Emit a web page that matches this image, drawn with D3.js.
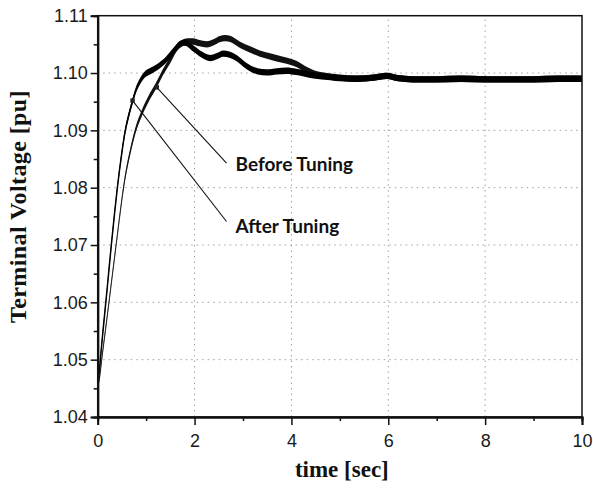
<!DOCTYPE html>
<html>
<head>
<meta charset="utf-8">
<script src="https://cdn.jsdelivr.net/npm/d3@7"></script>
<style>
  html, body { margin: 0; padding: 0; background: #fff; }
  svg { display: block; }
</style>
</head>
<body>
<svg id="chart" width="593" height="494"></svg>
<script>
// ---------- data ----------
const xTicks = [0, 2, 4, 6, 8, 10];
const xMinorTicks = [1, 3, 5, 7, 9];
const yTicks = [1.04, 1.05, 1.06, 1.07, 1.08, 1.09, 1.10, 1.11];
const yMinorTicks = [1.045, 1.055, 1.065, 1.075, 1.085, 1.095, 1.105];

const afterTime  = [0, 0.02, 0.1, 0.2, 0.28, 0.35, 0.41, 0.49, 0.557, 0.64, 0.72, 0.78, 0.87, 0.98, 1.1, 1.22, 1.4, 1.56, 1.7, 1.8, 1.97, 2.15, 2.32, 2.45, 2.59, 2.72, 2.87, 3.0, 3.15, 3.3, 3.49, 3.7, 3.9, 4.1, 4.45, 4.8, 5.0, 5.35, 5.7, 5.97, 6.2, 6.5, 7, 7.5, 8, 8.5, 9, 9.5, 10];
const afterVolt  = [1.0456, 1.0470, 1.0542, 1.0628, 1.0699, 1.0757, 1.0803, 1.0856, 1.0894, 1.0926, 1.0951, 1.0968, 1.0985, 1.0998, 1.1004, 1.1010, 1.1022, 1.1038, 1.1051, 1.1053, 1.1043, 1.1032, 1.1026, 1.1029, 1.1034, 1.1032, 1.1026, 1.1017, 1.1008, 1.1003, 1.1001, 1.1003, 1.1004, 1.1002, 1.0996, 1.0993, 1.0991, 1.0990, 1.0992, 1.0995, 1.0991, 1.0989, 1.0989, 1.0990, 1.0989, 1.0989, 1.0989, 1.0990, 1.0990];

const beforeTime = [0, 0.03, 0.1, 0.2, 0.38, 0.57, 0.68, 0.78, 0.915, 1.05, 1.2, 1.35, 1.5, 1.63, 1.75, 1.85, 1.97, 2.1, 2.25, 2.4, 2.52, 2.63, 2.75, 2.94, 3.15, 3.35, 3.6, 3.83, 4.1, 4.3, 4.45, 4.7, 5.0, 5.35, 5.7, 5.97, 6.2, 6.5, 7, 7.5, 8, 8.5, 9, 9.5, 10];
const beforeVolt = [1.0456, 1.0465, 1.0512, 1.0578, 1.0700, 1.0820, 1.0866, 1.0900, 1.0931, 1.0955, 1.0977, 1.1002, 1.1023, 1.1043, 1.1052, 1.1055, 1.1055, 1.1052, 1.1050, 1.1054, 1.1059, 1.1061, 1.1059, 1.1049, 1.1041, 1.1034, 1.1028, 1.1023, 1.1016, 1.1006, 1.1000, 1.0995, 1.0992, 1.0990, 1.0992, 1.0995, 1.0991, 1.0989, 1.0989, 1.0990, 1.0989, 1.0989, 1.0989, 1.0990, 1.0990];

// annotations
const annLabels = ["Before Tuning", "After Tuning"];
const annMarkT  = [1.22, 0.72];
const annMarkV  = [1.0975, 1.0952];
const annEndT   = [2.66, 2.66];
const annEndV   = [1.0843, 1.0741];
const annTextV  = [1.0829, 1.0721];

const noiseHalf = 0.00055; // half-width of the measurement noise band (pu)

// ---------- layout ----------
const W = 593, H = 494;
const m = { left: 97.7, right: 11, top: 15.7, bottom: 77 };
const svg = d3.select("#chart");
const x = d3.scaleLinear().domain([0, 10]).range([m.left, W - m.right]);
const y = d3.scaleLinear().domain([1.04, 1.11]).range([H - m.bottom, m.top]);

// gridlines
const grid = svg.append("g").attr("stroke", "#a0a0a0").attr("stroke-width", 1).attr("stroke-dasharray", "1.5,4");
grid.selectAll("line.gx").data(xTicks.slice(1, -1)).join("line")
  .attr("x1", d => x(d)).attr("x2", d => x(d)).attr("y1", y(1.04)).attr("y2", y(1.11));
grid.selectAll("line.gy").data(yTicks.slice(1, -1)).join("line")
  .attr("x1", x(0)).attr("x2", x(10)).attr("y1", d => y(d)).attr("y2", d => y(d));

// series
function seriesData(t, v) { return t.map((d, i) => ({ t: d, v: v[i] })); }
const dAfter = seriesData(afterTime, afterVolt);
const dBefore = seriesData(beforeTime, beforeVolt);

const band = d3.area().curve(d3.curveMonotoneX)
  .x(d => x(d.t)).y0(d => y(d.v - noiseHalf)).y1(d => y(d.v + noiseHalf));
const line = d3.line().curve(d3.curveMonotoneX).x(d => x(d.t)).y(d => y(d.v));

svg.append("path").datum(dBefore).attr("d", line).attr("fill", "none")
  .attr("stroke", "#8a8a8a").attr("stroke-width", 1.2);
svg.append("path").datum(dBefore).attr("d", band).attr("fill", "#111");
svg.append("path").datum(dAfter).attr("d", band).attr("fill", "#000");
svg.append("path").datum(dAfter).attr("d", line).attr("fill", "none")
  .attr("stroke", "#000").attr("stroke-width", 1.5);

// annotations
const ann = svg.append("g");
annLabels.forEach((lab, i) => {
  ann.append("line")
    .attr("x1", x(annMarkT[i])).attr("y1", y(annMarkV[i]))
    .attr("x2", x(annEndT[i])).attr("y2", y(annEndV[i]))
    .attr("stroke", "#111").attr("stroke-width", 1.1);
  ann.append("rect")
    .attr("x", x(annMarkT[i]) - 2.2).attr("y", y(annMarkV[i]) - 2.2)
    .attr("width", 4.4).attr("height", 4.4).attr("fill", "#222");
  ann.append("text")
    .attr("x", x(annEndT[i]) + 9).attr("y", y(annTextV[i]))
    .attr("font-family", "Lato, 'Open Sans', sans-serif")
    .attr("font-weight", 700).attr("font-size", 19).attr("fill", "#111")
    .text(lab);
});

// frame
svg.append("rect").attr("x", x(0)).attr("y", y(1.11))
  .attr("width", x(10) - x(0)).attr("height", y(1.04) - y(1.11))
  .attr("fill", "none").attr("stroke", "#111").attr("stroke-width", 1.5);

// axes
const fontAx = "'Liberation Sans', Arial, sans-serif";
const xAxis = svg.append("g").attr("transform", `translate(0,${y(1.04)})`)
  .call(d3.axisBottom(x).tickValues(xTicks).tickSize(8).tickPadding(9).tickFormat(d3.format("d")));
const xMinor = svg.append("g").attr("transform", `translate(0,${y(1.04)})`)
  .call(d3.axisBottom(x).tickValues(xMinorTicks).tickSize(4).tickFormat(""));
const yAxis = svg.append("g").attr("transform", `translate(${x(0)},0)`)
  .call(d3.axisLeft(y).tickValues(yTicks).tickSize(7).tickPadding(3).tickFormat(d3.format(".2f")));
const yMinor = svg.append("g").attr("transform", `translate(${x(0)},0)`)
  .call(d3.axisLeft(y).tickValues(yMinorTicks).tickSize(4).tickFormat(""));

[xAxis, xMinor, yAxis, yMinor].forEach(g => {
  g.select(".domain").attr("stroke", "#111").attr("stroke-width", 2);
  g.selectAll(".tick line").attr("stroke", "#111").attr("stroke-width", 1.5);
  g.selectAll(".tick text").attr("font-family", fontAx).attr("font-size", 18).attr("fill", "#1a1a1a");
});

// axis titles
svg.append("text")
  .attr("x", (x(0) + x(10)) / 2 + 2).attr("y", 477)
  .attr("text-anchor", "middle")
  .attr("font-family", "'Liberation Serif', 'Times New Roman', serif")
  .attr("font-weight", "bold").attr("font-size", 23).attr("fill", "#111")
  .text("time [sec]");
svg.append("text")
  .attr("transform", `translate(25.5,${206.5}) rotate(-90)`)
  .attr("text-anchor", "middle")
  .attr("font-family", "'Liberation Serif', 'Times New Roman', serif")
  .attr("font-weight", "bold").attr("font-size", 24).attr("letter-spacing", 0.4).attr("fill", "#111")
  .text("Terminal Voltage [pu]");
</script>
</body>
</html>
